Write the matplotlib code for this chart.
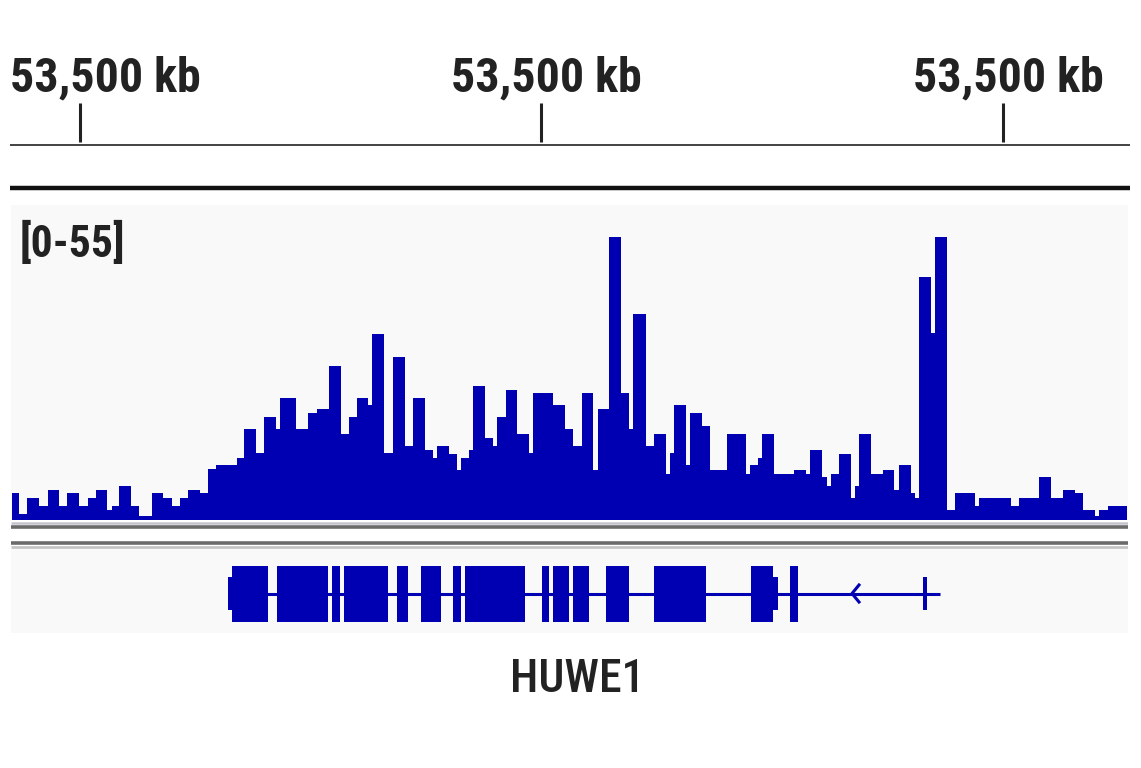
import matplotlib
matplotlib.use("Agg")
import matplotlib.pyplot as plt
from matplotlib import font_manager
from matplotlib.patches import Rectangle

W, H = 1141, 768

# coverage bins: edges along the locus (screen-scaled genomic position) and read depth
cov_edges = [11.7, 19, 27.3, 39.3, 47.7, 59.3, 67.3, 79.3, 87.7, 95.7, 107.3, 111.7,
             119.3, 131.3, 139.3, 151.7, 163.3, 171.7, 180, 188.3, 200, 208.3, 216,
             236.7, 244.3, 256, 264.3, 276, 280, 296, 308.3, 316.7, 328.7, 340.7, 349,
             356.7, 368.3, 372.3, 384.3, 392.7, 404.7, 413.3, 425.3, 432.7, 437.3, 449.3,
             457.3, 461.3, 469.3, 473.3, 485, 493.3, 497.3, 505.7, 517.3, 529.3, 533.3,
             553.3, 565, 573.3, 581.7, 593.3, 597.7, 609.3, 621.3, 629.3, 633.3, 645.7,
             654, 666, 670, 674, 685.7, 690, 702.3, 710, 726.7, 746, 750, 758.3, 762.3,
             774, 794.3, 806, 810, 822.3, 826.7, 830.7, 838.7, 850.7, 855, 859, 870.7,
             882.7, 894.3, 898.7, 910.7, 915, 919, 930.7, 935, 946.7, 955, 975, 979.3,
             1010.7, 1019.3, 1039.3, 1051, 1063.3, 1075, 1083.3, 1095, 1099.3, 1107.7, 1127.3]
cov_values = [5.2, 1.2, 4.3, 2.8, 5.9, 2.8, 5.2, 2.8, 4.3, 5.9, 1.9, 2.8, 6.6, 2.8, 0.8,
              5.2, 4.3, 2.8, 4.3, 5.9, 5.2, 9.9, 10.7, 12.1, 17.7, 13, 20, 17.7, 23.8,
              17.7, 20.7, 21.5, 30, 16.8, 20, 23.8, 22.3, 36.2, 13, 31.6, 14.4, 23.8,
              13.6, 12, 14.4, 12.8, 9.8, 12, 13.6, 26.1, 16, 14.4, 20, 25.3, 16.8, 13,
              24.6, 22.3, 17.7, 14.4, 24.6, 9.8, 21.5, 55, 24.6, 17.7, 40.1, 14.4, 16.8,
              8.9, 13, 22.3, 10.6, 20.7, 18.3, 9.8, 16.8, 8.9, 10.6, 12, 16.8, 8.9, 9.8,
              8.9, 13.6, 8.3, 6.6, 8.9, 12.8, 4.3, 6.6, 16.7, 8.9, 9.8, 5.9, 10.6, 5.2,
              4.3, 47.3, 36.3, 55, 1.9, 5.2, 2.8, 4.3, 2.8, 4.3, 8.3, 4.3, 5.9, 5.2, 1.9,
              0.8, 1.9, 2.8]
data_range = (0, 55)

# ruler
ruler_ticks = [80, 541, 1003]
ruler_labels = ["53,500 kb", "53,500 kb", "53,500 kb"]

# HUWE1 gene model
gene_name = "HUWE1"
gene_span = (228, 940)
cds_exons = [(232.3, 267.7), (276.7, 328.3), (332.3, 340.3), (344.3, 388.3),
             (396.7, 408.3), (420.7, 440.7), (453.3, 460.7), (465, 525),
             (541.7, 549.3), (553.3, 569.3), (573.3, 589.3), (606, 629.3),
             (654, 705.7), (750.7, 773.3), (790, 798.3)]
utr_exons = [(228.3, 232.3), (773.3, 778.3), (923, 926.5)]
strand_marks = [855]

blue = "#0000b2"
bg = "#f9f9f9"

# look for a narrow / condensed face, like the original Helvetica Condensed
narrow = None
for f in font_manager.fontManager.ttflist:
    nm = f.name.lower()
    if "condensed" in nm or "narrow" in nm or f.stretch in ("condensed", "semi-condensed"):
        narrow = f.name
        if "roboto" in nm or "liberation" in nm:
            break
font = [narrow, "DejaVu Sans"] if narrow else ["DejaVu Sans"]
stretch = "condensed"

fig = plt.figure(figsize=(W / 100, H / 100), dpi=100)
x0, x1 = 11, 1128


def add_ax(top, bottom):
    return fig.add_axes([x0 / W, 1 - bottom / H, (x1 - x0) / W, (bottom - top) / H])


# ---- ruler ----
ax_r = add_ax(0, 200)
ax_r.set_xlim(x0, x1)
ax_r.set_ylim(200, 0)
ax_r.axis("off")
ax_r.hlines(145, 10, 1130, color="#222222", lw=1.2, clip_on=False)
ax_r.hlines(188, 10, 1130, color="#111111", lw=3.2, clip_on=False)
ax_r.vlines(ruler_ticks, 103, 142, color="#222222", lw=2.2)
for i, (t, lab) in enumerate(zip(ruler_ticks, ruler_labels)):
    if i == 0:
        ax_r.text(10, 91, lab, ha="left", va="baseline", fontsize=34.5, fontweight="bold",
                  family=font, fontstretch=stretch, color="#222222", clip_on=False)
    else:
        ax_r.text(t + 5, 91, lab, ha="center", va="baseline", fontsize=34.5,
                  fontweight="bold", family=font, fontstretch=stretch, color="#222222",
                  clip_on=False)

# ---- coverage track ----
ax_c = add_ax(205, 520)
ax_c.set_facecolor(bg)
ax_c.set_xlim(x0, x1)
ax_c.set_ylim(0, data_range[1] * (520 - 205) / (520 - 237))
ax_c.stairs(cov_values, cov_edges, fill=True, color=blue, lw=0)
for s in ax_c.spines.values():
    s.set_visible(False)
ax_c.set_xticks([])
ax_c.set_yticks([])
ax_c.text(0.008, 0.875, "[%d-%d]" % data_range, transform=ax_c.transAxes, ha="left",
          va="center", fontsize=31.5, fontweight="bold", family=font, fontstretch=stretch,
          color="#222222")

# separator lines
ax_s = add_ax(520, 549)
ax_s.set_xlim(x0, x1)
ax_s.set_ylim(549, 520)
ax_s.axis("off")
ax_s.hlines(522.5, x0, x1, color="#c4c4cc", lw=1.8)
ax_s.hlines(526.5, x0, x1, color="#6a6a6a", lw=2.6)
ax_s.hlines(543, x0, x1, color="#6a6a6a", lw=2.6)
ax_s.hlines(546.5, x0, x1, color="#c4c4c4", lw=2.0)

# ---- gene track ----
ax_g = add_ax(549, 633)
ax_g.set_facecolor(bg)
ax_g.set_xlim(x0, x1)
ax_g.set_ylim(633, 549)
for s in ax_g.spines.values():
    s.set_visible(False)
ax_g.set_xticks([])
ax_g.set_yticks([])
ax_g.hlines(593.5, gene_span[0], gene_span[1], color=blue, lw=2.2)
for a, b in cds_exons:
    ax_g.add_patch(Rectangle((a, 566), b - a, 56, color=blue, lw=0))
for a, b in utr_exons:
    ax_g.add_patch(Rectangle((a, 577), b - a, 33, color=blue, lw=0))
for m in strand_marks:
    ax_g.plot([m + 4, m - 3, m + 4], [585, 593.5, 602], color=blue, lw=2.2)

fig.text(577 / W, 1 - 680 / H, gene_name, ha="center", va="center", fontsize=33,
         family=font, fontstretch=stretch, fontweight="medium", color="#222222")

fig.savefig("out.png", dpi=100, facecolor="white")
